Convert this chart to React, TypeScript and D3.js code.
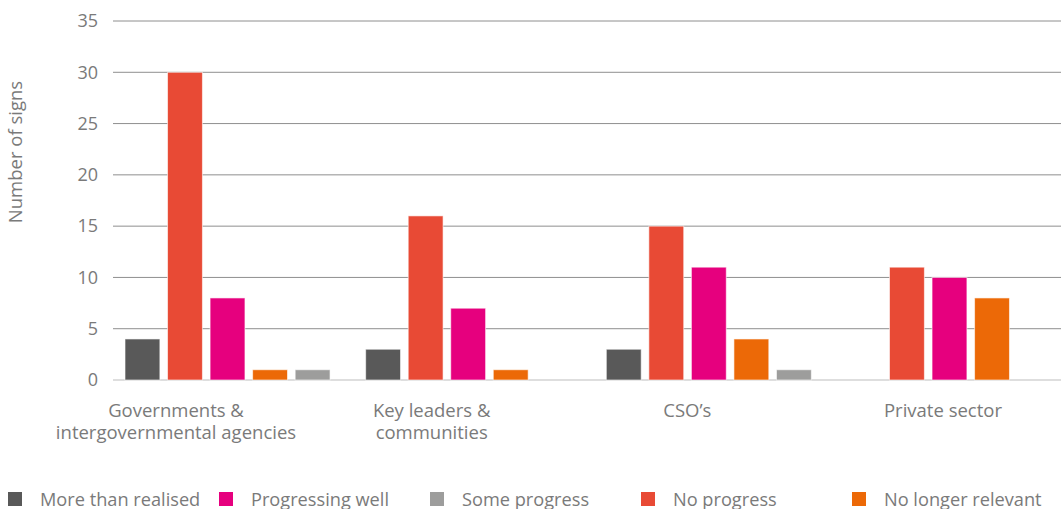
import React from 'react';
import * as d3 from 'd3';

const categories = ['Governments & intergovernmental agencies', 'Key leaders & communities', 'CSO\u2019s', 'Private sector'];
const categoryLines = [['Governments &', 'intergovernmental agencies'], ['Key leaders &', 'communities'], ['CSO\u2019s'], ['Private sector']];

// bar order inside a group (as drawn)
const barSeries = ['More than realised', 'No progress', 'Progressing well', 'No longer relevant', 'Some progress'];
// legend order
const legendSeries = ['More than realised', 'Progressing well', 'Some progress', 'No progress', 'No longer relevant'];

const moreThanRealised = [4, 3, 3, 0];
const noProgress = [30, 16, 15, 11];
const progressingWell = [8, 7, 11, 10];
const noLongerRelevant = [1, 1, 4, 8];
const someProgress = [1, 0, 1, 0];

const yTicks = [0, 5, 10, 15, 20, 25, 30, 35];

const colors: Record<string, string> = {
  'More than realised': '#595959',
  'Progressing well': '#e6007e',
  'Some progress': '#9d9d9c',
  'No progress': '#e84a35',
  'No longer relevant': '#ec6907',
};

const valuesBySeries: Record<string, number[]> = {
  'More than realised': moreThanRealised,
  'No progress': noProgress,
  'Progressing well': progressingWell,
  'No longer relevant': noLongerRelevant,
  'Some progress': someProgress,
};

const width = 1061;
const height = 509;
const font = "'Open Sans', sans-serif";
const textColor = '#7a7a7a';

export default function App() {
  const x0 = d3.scaleBand().domain(categories).range([125, 1052]).paddingInner(0.148).paddingOuter(0);
  const x1 = d3.scaleBand().domain(barSeries).range([0, x0.bandwidth()]).paddingInner(0.18).paddingOuter(0);
  const labelX = d3.scalePoint().domain(categories).range([176, 943]);
  const y = d3.scaleLinear().domain([0, 35]).range([380, 21]);

  const plotLeft = 113;
  const legendX = d3.scalePoint().domain(legendSeries).range([8, 852]);

  return (
    <svg width={width} height={height} style={{ position: 'absolute', left: 0, top: 0, background: '#fff' }}>
      {/* grid */}
      {yTicks.map((t) => (
        <g key={t}>
          <line x1={plotLeft} x2={width} y1={y(t)} y2={y(t)} stroke={t === 0 ? '#bdbdbd' : '#8e8e8e'} strokeWidth={1} />
          <text x={98} y={y(t)} dy="0.35em" textAnchor="end" fontFamily={font} fontSize={18} fill={textColor}>{t}</text>
        </g>
      ))}

      <text transform="translate(22,152) rotate(-90)" textAnchor="middle" fontFamily={font} fontSize={18.5} fill={textColor}>Number of signs</text>

      {/* bars */}
      {categories.map((c, i) => (
        <g key={c} transform={`translate(${x0(c)},0)`}>
          {barSeries.map((s) => {
            const v = valuesBySeries[s][i];
            if (!v) return null;
            return (
              <rect key={s} x={x1(s)} y={y(v)} width={x1.bandwidth()} height={y(0) - y(v)} fill={colors[s]} stroke="#fff" strokeOpacity={0.6} strokeWidth={1} />
            );
          })}
        </g>
      ))}

      {/* category labels */}
      {categories.map((c, i) => (
        <text key={c} x={labelX(c)} y={417} textAnchor="middle" fontFamily={font} fontSize={18.5} fill={textColor}>
          {categoryLines[i].map((line, j) => (
            <tspan key={j} x={labelX(c)} dy={j === 0 ? 0 : 22}>{line}</tspan>
          ))}
        </text>
      ))}

      {/* legend */}
      {legendSeries.map((s) => (
        <g key={s} transform={`translate(${legendX(s)},492)`}>
          <rect width={14} height={14} fill={colors[s]} />
          <text x={32} y={14} fontFamily={font} fontSize={18.2} fill={textColor}>{s}</text>
        </g>
      ))}
    </svg>
  );
}
